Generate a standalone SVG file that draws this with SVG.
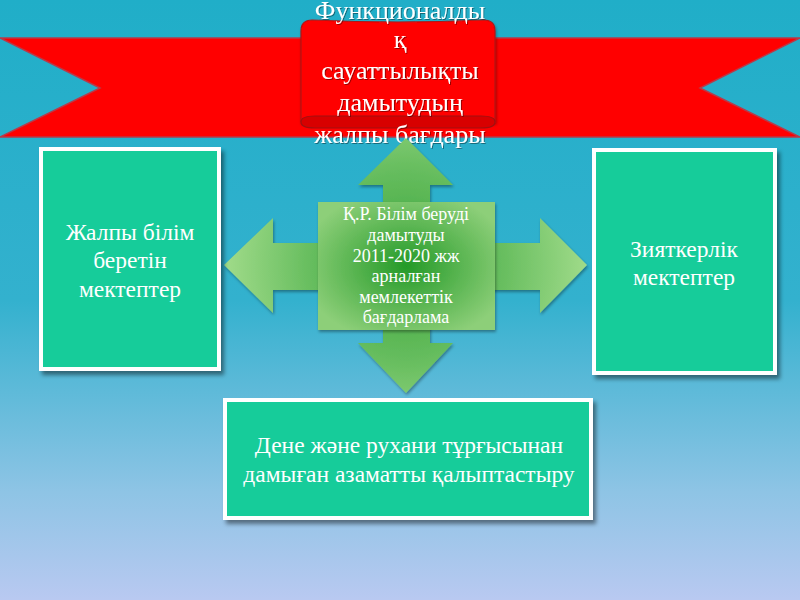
<svg xmlns="http://www.w3.org/2000/svg" width="800" height="600" viewBox="0 0 800 600">
<defs>
<linearGradient id="bg" x1="0" y1="0" x2="0" y2="1">
<stop offset="0" stop-color="#20aec8"/>
<stop offset="0.5" stop-color="#33b1ce"/>
<stop offset="0.82" stop-color="#8ec4e5"/>
<stop offset="1" stop-color="#b9c9f1"/>
</linearGradient>
<radialGradient id="arrowGrad" gradientUnits="userSpaceOnUse" cx="406" cy="265" r="190">
<stop offset="0" stop-color="#3aa53a"/>
<stop offset="0.5" stop-color="#66bd5e"/>
<stop offset="1" stop-color="#a6de8e"/>
</radialGradient>
<radialGradient id="centerGrad" cx="0.5" cy="0.5" r="0.6">
<stop offset="0" stop-color="#249a28"/>
<stop offset="1" stop-color="#8dcf79"/>
</radialGradient>
<filter id="shadow" x="-10%" y="-10%" width="125%" height="125%">
<feDropShadow dx="3" dy="4" stdDeviation="2" flood-color="#000" flood-opacity="0.45"/>
</filter>
<filter id="soft" x="-10%" y="-10%" width="125%" height="125%">
<feDropShadow dx="1" dy="2" stdDeviation="1.5" flood-color="#000" flood-opacity="0.35"/>
</filter>
<filter id="tshadow" x="-5%" y="-20%" width="110%" height="150%">
<feDropShadow dx="1" dy="1" stdDeviation="0.6" flood-color="#000" flood-opacity="0.4"/>
</filter>
</defs>
<style>
.box { fill: #12cc9a; stroke: #ffffff; stroke-width: 4; filter: url(#shadow); }
.txt { font-family: "Liberation Serif", "DejaVu Serif", serif; fill: #ffffff; text-anchor: middle; }
.title { font-size: 26px; filter: url(#tshadow); }
.node { font-size: 23.5px; }
.small { font-size: 18px; }
</style>
<rect x="0" y="0" width="800" height="600" fill="url(#bg)"/>

<g id="ribbon">
<polygon points="0,38 800,38 700,88 800,137 0,137 100,88" fill="#ff0000" stroke="#b83a4a" stroke-width="1.5"/>
</g>

<g id="title">
<path d="M301,31 Q301,20 312,20 Q398,24 484,20 Q495,20 495,31 L495,122 L301,122 Z" fill="#ff0000" stroke="#b01818" stroke-width="1.2" filter="url(#soft)"/>
<path d="M301,122 Q301,116 315,116 L481,116 Q495,116 495,122 Q495,128 481,128 L315,128 Q301,128 301,122 Z" fill="#d80000" stroke="#a01010" stroke-width="1.2"/>
<text class="txt title" x="400" y="19">Функционалды</text>
<text class="txt title" x="400" y="48">қ</text>
<text class="txt title" x="400" y="79">сауаттылықты</text>
<text class="txt title" x="400" y="111">дамытудың</text>
<text class="txt title" x="400" y="143">жалпы бағдары</text>
</g>

<g id="connectors">
<polygon filter="url(#soft)" fill="url(#arrowGrad)" points="406,138 453,185 430,185 430,243 540,243 540,218 587,265 540,313 540,290 430,290 430,343 453,343 406,393 358,343 383,343 383,290 273,290 273,313 224,265 273,218 273,243 383,243 383,185 358,185"/>
</g>

<g id="center">
<rect x="318" y="202" width="177" height="128" fill="url(#centerGrad)" filter="url(#soft)"/>
<text class="txt small" x="406" y="220">Қ.Р. Білім беруді</text>
<text class="txt small" x="406" y="241">дамытуды</text>
<text class="txt small" x="406" y="262">2011-2020 жж</text>
<text class="txt small" x="406" y="282">арналған</text>
<text class="txt small" x="406" y="303">мемлекеттік</text>
<text class="txt small" x="406" y="323">бағдарлама</text>
</g>

<g id="left">
<rect class="box" x="41" y="149" width="178" height="220"/>
<text class="txt node" x="130" y="240">Жалпы білім</text>
<text class="txt node" x="130" y="268">беретін</text>
<text class="txt node" x="130" y="297">мектептер</text>
</g>

<g id="right">
<rect class="box" x="594" y="150" width="181" height="223"/>
<text class="txt node" x="684" y="257">Зияткерлік</text>
<text class="txt node" x="684" y="285">мектептер</text>
</g>

<g id="bottom">
<rect class="box" x="225" y="400" width="366" height="118"/>
<text class="txt node" x="409" y="453">Дене және рухани тұрғысынан</text>
<text class="txt node" x="409" y="482">дамыған азаматты қалыптастыру</text>
</g>
</svg>
